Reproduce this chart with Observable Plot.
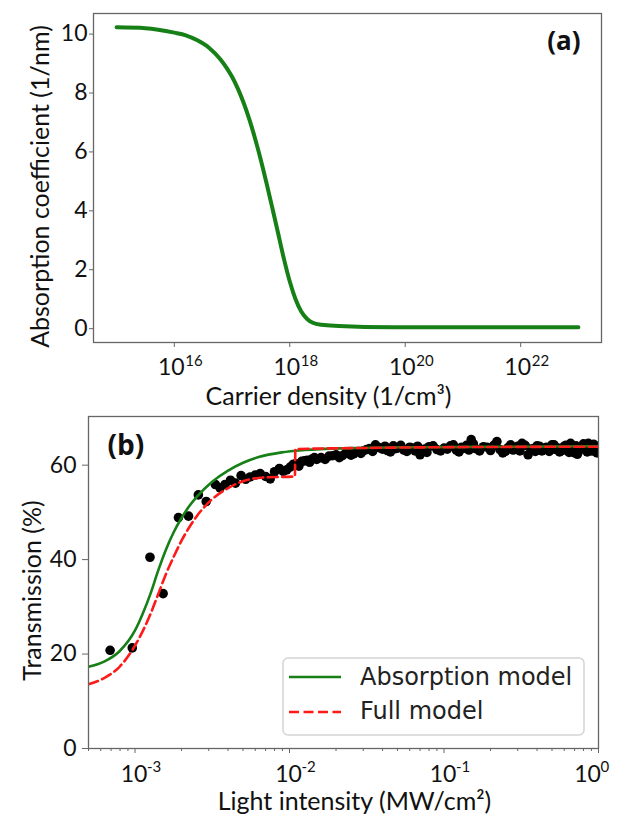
<!DOCTYPE html>
<html><head><meta charset="utf-8">
<script src="https://cdn.jsdelivr.net/npm/d3@7"></script>
<script src="https://cdn.jsdelivr.net/npm/@observablehq/plot@0.6"></script>
<style>
html,body{margin:0;padding:0;background:#fff;}
#chart{width:625px;height:819px;position:relative;background:#fff;}
#chart svg{display:block;}
</style></head><body><div id="chart"></div>
<script>
// ---------- Panel (a) data ----------
const carrierDensity = [1e15, 3.16e15, 1e16, 1.58e16, 2.51e16, 3.98e16, 6.31e16, 7.94e16, 1e17, 1.26e17, 1.58e17, 2.0e17, 2.51e17, 3.16e17, 3.98e17, 5.01e17, 6.31e17, 7.94e17, 1e18, 1.26e18, 1.58e18, 2.0e18, 2.51e18, 3.55e18, 7.08e18, 2e19, 1e20, 1e21, 1e22, 1e23];
const absorptionCoeff = [10.23, 10.2, 10.05, 9.96, 9.79, 9.54, 9.14, 8.87, 8.55, 8.15, 7.68, 7.1, 6.45, 5.72, 4.92, 4.08, 3.22, 2.36, 1.6, 1.0, 0.58, 0.33, 0.2, 0.13, 0.09, 0.06, 0.05, 0.05, 0.05, 0.05];
const yTicksA = [0, 2, 4, 6, 8, 10];
const xTicksA = [1e16, 1e18, 1e20, 1e22];
const xTickExpA = ["16", "18", "20", "22"];

// ---------- Panel (b) data ----------
const measIntensity = [6.9e-4, 9.6e-4, 1.25e-3, 1.52e-3, 1.91e-3, 2.22e-3, 2.57e-3, 2.89e-3, 3.31e-3, 3.55e-3, 3.83e-3, 4.15e-3, 4.47e-3, 4.86e-3, 5.2e-3, 5.56e-3, 6.0e-3, 6.46e-3, 7.0e-3, 7.5e-3, 8.0e-3, 8.6e-3, 9.1e-3, 9.6e-3, 1.01e-2, 1.06e-2,
  0.011, 0.0115, 0.012, 0.0125, 0.013, 0.0135, 0.014, 0.0145, 0.015, 0.016, 0.017, 0.018, 0.019, 0.02, 0.021, 0.022, 0.023, 0.024, 0.025, 0.026, 0.027, 0.028, 0.029, 0.03, 0.0315, 0.033,
  0.0345, 0.036, 0.038, 0.04, 0.0415, 0.043, 0.045, 0.047, 0.0485, 0.05, 0.0525, 0.055, 0.0575, 0.06, 0.0625, 0.065, 0.0675, 0.07, 0.0725, 0.075, 0.0775, 0.08, 0.085, 0.09, 0.095,
  0.1, 0.105, 0.11, 0.115, 0.12, 0.125, 0.13, 0.135, 0.14, 0.145, 0.15, 0.155, 0.16, 0.17, 0.18, 0.19, 0.2, 0.21, 0.22, 0.23, 0.24, 0.25, 0.26, 0.27, 0.28, 0.29, 0.3, 0.31, 0.32, 0.335, 0.35, 0.365, 0.38, 0.39, 0.4,
  0.415, 0.43, 0.445, 0.46, 0.48, 0.5, 0.515, 0.53, 0.545, 0.56, 0.58, 0.6, 0.615, 0.63, 0.645, 0.66, 0.68, 0.7, 0.715, 0.73, 0.745, 0.76, 0.78, 0.8, 0.815, 0.83, 0.845, 0.86, 0.88, 0.9, 0.915, 0.93, 0.945, 0.96, 0.98, 1.0];
const measTransmission = [20.8, 21.3, 40.5, 32.8, 48.9, 49.2, 53.7, 52.3, 55.9, 55.2, 55.9, 56.8, 56.2, 57.8, 57.0, 57.5, 57.9, 58.2, 57.6, 57.1, 58.6, 59.3, 58.7, 59.0, 59.6, 60.2,
  60.3, 59.8, 60.8, 60.9, 61.0, 60.6, 61.3, 61.6, 61.2, 61.6, 61.2, 61.9, 62.0, 62.2, 61.6, 62.0, 62.5, 62.6, 62.1, 62.4, 62.8, 62.9, 62.5, 63.0, 63.3, 63.5,
  62.9, 64.3, 63.7, 63.4, 64.0, 63.1, 62.8, 64.1, 63.5, 63.6, 64.2, 63.2, 62.9, 63.8, 63.6, 63.0, 64.0, 62.2, 63.1, 63.4, 62.7, 63.9, 64.1, 63.3, 63.0,
  63.6, 63.4, 64.1, 64.3, 63.2, 62.8, 63.8, 63.6, 64.2, 63.2, 65.4, 64.5, 63.5, 63.0, 63.9, 63.8, 63.1, 64.2, 65.0, 63.3, 62.6, 62.9, 63.7, 64.3, 63.2, 63.6, 64.0, 63.0, 64.6, 64.2, 62.2, 63.4, 63.5, 62.9, 64.1,
  64.0, 63.0, 63.5, 63.8, 62.9, 64.3, 64.3, 63.3, 63.6, 62.8, 63.1, 64.0, 64.2, 63.5, 62.7, 64.6, 63.5, 62.6, 64.1, 62.3, 63.0, 63.9, 63.7, 64.5, 64.3, 63.2, 62.8, 64.6, 63.9, 63.0, 63.3, 64.4, 64.2, 62.8, 62.6, 63.8];

const absModelIntensity = [5.0e-4, 6.31e-4, 7.94e-4, 1.0e-3, 1.12e-3, 1.26e-3, 1.41e-3, 1.58e-3, 1.78e-3, 2.0e-3, 2.24e-3, 2.51e-3, 3.16e-3, 3.98e-3, 5.01e-3, 6.31e-3, 8.91e-3, 1.26e-2, 2.51e-2, 6.31e-2, 0.251, 1.0];
const absModelT = [17.3, 18.4, 20.6, 25.0, 28.5, 32.8, 37.6, 42.0, 45.8, 48.8, 51.3, 53.3, 56.5, 58.8, 60.5, 61.7, 62.7, 63.2, 63.6, 63.8, 63.9, 64.0];

const fullModelIntensity = [5.0e-4, 6.31e-4, 7.94e-4, 1.0e-3, 1.12e-3, 1.26e-3, 1.41e-3, 1.58e-3, 1.78e-3, 2.0e-3, 2.24e-3, 2.51e-3, 3.16e-3, 3.98e-3, 5.01e-3, 6.76e-3, 1.084e-2, 1.091e-2, 2.51e-2, 0.1, 1.0];
const fullModelT = [13.6, 14.9, 17.3, 21.8, 24.8, 28.5, 32.6, 36.8, 40.6, 44.0, 46.8, 49.2, 52.8, 55.1, 56.6, 57.4, 57.6, 63.4, 63.6, 63.8, 63.9];

const yTicksB = [0, 20, 40, 60];
const xTicksB = [1e-3, 1e-2, 1e-1, 1];
const xTickExpB = ["-3", "-2", "-1", "0"];
const legendLabels = ["Absorption model", "Full model"];

const GREEN = "#168016";
const RED = "#ff1a1a";
const AXIS = "#666";
const FONT = "Lato, 'Open Sans', sans-serif";
const BOLDFONT = "'Open Sans', Lato, sans-serif";

const tableA = carrierDensity.map((n, i) => ({n, a: absorptionCoeff[i]}));
const tableMeas = measIntensity.map((x, i) => ({x, t: measTransmission[i]}));
const tableAbs = absModelIntensity.map((x, i) => ({x, t: absModelT[i]}));
const tableFull = fullModelIntensity.map((x, i) => ({x, t: fullModelT[i]}));
const minorTicksB = [1e-4, 1e-3, 1e-2, 1e-1].flatMap(d => [2,3,4,5,6,7,8,9].map(k => k * d)).filter(v => v >= 5e-4 && v <= 1);

const plotA = Plot.plot({
  width: 625, height: 412,
  marginTop: 13, marginBottom: 70, marginLeft: 93, marginRight: 24,
  style: {fontFamily: FONT, fontSize: "23px", color: "#111", background: "white", overflow: "visible"},
  x: {type: "log", domain: [10 ** 14.6, 10 ** 23.4]},
  y: {domain: [-0.47, 10.7]},
  marks: [
    Plot.axisY({ticks: yTicksA, tickSize: 4, tickPadding: 2, label: null, fontSize: 23, stroke: AXIS, tickFormat: d => String(d)}),
    Plot.axisX({ticks: xTicksA, tickSize: 5, label: null, stroke: AXIS, tickFormat: () => ""}),
    Plot.text(xTicksA, {x: d => d, frameAnchor: "bottom", text: () => "10", textAnchor: "middle", lineAnchor: "top", dx: -3, dy: 16, fontSize: 23}),
    Plot.text(xTicksA, {x: d => d, frameAnchor: "bottom", text: (d, i) => xTickExpA[i], textAnchor: "start", lineAnchor: "top", dx: 11, dy: 13, fontSize: 15}),
    Plot.line(tableA, {x: "n", y: "a", stroke: GREEN, strokeWidth: 4, curve: "monotone-x"}),
    Plot.frame({stroke: AXIS, strokeWidth: 1.3}),
    Plot.text(["Absorption coefficient (1/nm)"], {frameAnchor: "left", text: d => d, rotate: -90, textAnchor: "middle", lineAnchor: "top", dx: -62, dy: 8.5, fontSize: 25}),
    Plot.text(["Carrier density (1/cm³)"], {frameAnchor: "bottom", text: d => d, textAnchor: "middle", lineAnchor: "top", dx: -19, dy: 45, fontSize: 25}),
    Plot.text(["(a)"], {frameAnchor: "top-right", text: d => d, textAnchor: "end", lineAnchor: "top", dx: -21, dy: 18, fontSize: 26, fontWeight: "bold", fontFamily: BOLDFONT})
  ]
});

const plotB = Plot.plot({
  width: 625, height: 407,
  marginTop: 4, marginBottom: 71, marginLeft: 88, marginRight: 27,
  style: {fontFamily: FONT, fontSize: "23px", color: "#111", background: "white", overflow: "visible"},
  x: {type: "log", domain: [5e-4, 1]},
  y: {domain: [0, 70.3]},
  marks: [
    Plot.axisY({ticks: yTicksB, tickSize: 6, tickPadding: 6, label: null, fontSize: 23, stroke: AXIS, tickFormat: d => String(d)}),
    Plot.axisX({ticks: minorTicksB, tickSize: 3, label: null, stroke: AXIS, tickFormat: () => ""}),
    Plot.axisX({ticks: xTicksB, tickSize: 5, label: null, stroke: AXIS, tickFormat: () => ""}),
    Plot.text(xTicksB.slice(0, 3), {x: d => d, frameAnchor: "bottom", text: () => "10", textAnchor: "middle", lineAnchor: "top", dx: -1, dy: 17, fontSize: 23}),
    Plot.text(xTicksB.slice(0, 3), {x: d => d, frameAnchor: "bottom", text: (d, i) => xTickExpB[i], textAnchor: "start", lineAnchor: "top", dx: 12, dy: 13, fontSize: 15}),
    Plot.text(xTicksB.slice(3), {x: d => d, frameAnchor: "bottom", text: () => "10", textAnchor: "middle", lineAnchor: "top", dx: -11, dy: 17, fontSize: 23}),
    Plot.text(xTicksB.slice(3), {x: d => d, frameAnchor: "bottom", text: () => xTickExpB[3], textAnchor: "start", lineAnchor: "top", dx: 2, dy: 13, fontSize: 15}),
    Plot.dot(tableMeas, {x: "x", y: "t", r: 4.8, fill: "black", stroke: "none", clip: true}),
    Plot.line(tableAbs, {x: "x", y: "t", stroke: GREEN, strokeWidth: 2.6, curve: "monotone-x", clip: true}),
    Plot.line(tableFull, {x: "x", y: "t", stroke: RED, strokeWidth: 2.6, strokeDasharray: "10,4.5", curve: "monotone-x", clip: true}),
    Plot.frame({stroke: AXIS, strokeWidth: 1.3}),
    Plot.text(["Transmission (%)"], {frameAnchor: "left", text: d => d, rotate: -90, textAnchor: "middle", lineAnchor: "top", dx: -65, dy: 8, fontSize: 25}),
    Plot.text(["Light intensity (MW/cm²)"], {frameAnchor: "bottom", text: d => d, textAnchor: "middle", lineAnchor: "top", dx: 11, dy: 44, fontSize: 25}),
    Plot.text(["(b)"], {frameAnchor: "top-left", text: d => d, textAnchor: "start", lineAnchor: "top", dx: 19, dy: 19, fontSize: 28, fontWeight: "bold", fontFamily: BOLDFONT})
  ]
});

const chart = document.getElementById("chart");
chart.appendChild(plotA);
chart.appendChild(plotB);

// Legend inside panel (b)
const lg = d3.select(plotB).append("g")
  .attr("font-family", "'DejaVu Sans', sans-serif").attr("font-size", 24).attr("text-anchor", "start");
lg.append("rect").attr("x", 283).attr("y", 246).attr("width", 301).attr("height", 77).attr("rx", 5)
  .attr("fill", "white").attr("fill-opacity", 0.8).attr("stroke", "#d4d4d4").attr("stroke-width", 1.5);
lg.append("line").attr("x1", 289).attr("x2", 341).attr("y1", 265).attr("y2", 265).attr("stroke", GREEN).attr("stroke-width", 2.6);
lg.append("line").attr("x1", 289).attr("x2", 341).attr("y1", 300).attr("y2", 300).attr("stroke", RED).attr("stroke-width", 2.6).attr("stroke-dasharray", "10,4.5");
lg.append("text").attr("x", 360).attr("y", 273).attr("fill", "#222").attr("text-anchor", "start").text(legendLabels[0]);
lg.append("text").attr("x", 360).attr("y", 307).attr("fill", "#222").attr("text-anchor", "start").text(legendLabels[1]);
</script></body></html>
